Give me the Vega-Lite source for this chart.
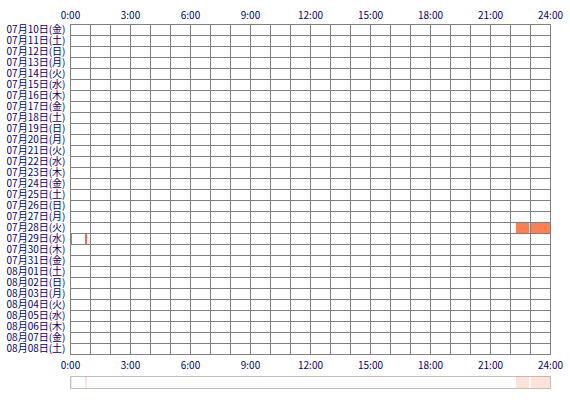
{
  "$schema": "https://vega.github.io/schema/vega-lite/v6.json",
  "padding": {"left": 5, "top": 9, "right": 5, "bottom": 5},
  "background": "white",
  "datasets": {
    "bars": [
      {"date": "07月28日(火)", "start": 22.3, "end": 22.95},
      {"date": "07月28日(火)", "start": 23.05, "end": 24.0},
      {"date": "07月29日(水)", "start": 0.05, "end": 0.1},
      {"date": "07月29日(水)", "start": 0.75, "end": 0.85}
    ]
  },
  "spacing": 22,
  "bounds": "flush",
  "vconcat": [
    {
      "width": 480,
      "height": 330,
      "data": {"name": "bars"},
      "view": {"stroke": "#808080", "strokeWidth": 1},
      "layer": [
        {
          "transform": [{"filter": "datum.date == '07月28日(火)'"}],
          "mark": {"type": "rect", "color": "#FF7F50"},
          "encoding": {
            "x": {
              "field": "start", "type": "quantitative",
              "scale": {"domain": [0, 24], "nice": false, "zero": false},
              "axis": {
                "orient": "top", "title": null, "values": [0,1,2,3,4,5,6,7,8,9,10,11,12,13,14,15,16,17,18,19,20,21,22,23,24],
                "labelExpr": "datum.value % 3 == 0 ? datum.value + ':00' : ''",
                "grid": true, "gridColor": "#808080", "gridOpacity": 1, "gridWidth": 1,
                "ticks": false, "domain": false, "labelPadding": 4, "labelFlush": false
              }
            },
            "x2": {"field": "end"},
            "y": {
              "field": "date", "type": "ordinal",
              "scale": {
                "domain": ["07月10日(金)","07月11日(土)","07月12日(日)","07月13日(月)","07月14日(火)","07月15日(水)","07月16日(木)","07月17日(金)","07月18日(土)","07月19日(日)","07月20日(月)","07月21日(火)","07月22日(水)","07月23日(木)","07月24日(金)","07月25日(土)","07月26日(日)","07月27日(月)","07月28日(火)","07月29日(水)","07月30日(木)","07月31日(金)","08月01日(土)","08月02日(日)","08月03日(月)","08月04日(火)","08月05日(水)","08月06日(木)","08月07日(金)","08月08日(土)"],
                "paddingInner": 0, "paddingOuter": 0
              },
              "axis": {
                "title": null, "grid": true, "tickBand": "extent", "gridColor": "#808080", "gridOpacity": 1, "gridWidth": 1,
                "ticks": false, "domain": false, "labelPadding": 5
              }
            }
          }
        },
        {
          "transform": [{"filter": "datum.date == '07月29日(水)'"}],
          "mark": {"type": "rect", "color": "#FF6347"},
          "encoding": {
            "x": {
              "field": "start", "type": "quantitative",
              "axis": {
                "orient": "bottom", "title": null, "values": [0,3,6,9,12,15,18,21,24],
                "labelExpr": "datum.value + ':00'",
                "grid": false, "ticks": false, "domain": false, "labelPadding": 6, "labelFlush": false
              }
            },
            "x2": {"field": "end"},
            "y": {"field": "date", "type": "ordinal"}
          }
        }
      ],
      "resolve": {"axis": {"x": "independent"}}
    },
    {
      "width": 480,
      "height": 12,
      "data": {"name": "bars"},
      "view": {"stroke": "#c0c0c0", "strokeWidth": 1},
      "mark": {"type": "rect", "color": "#FF7F50", "opacity": 0.22},
      "encoding": {
        "x": {"field": "start", "type": "quantitative", "scale": {"domain": [0, 24], "nice": false, "zero": false}, "axis": null},
        "x2": {"field": "end"}
      }
    }
  ],
  "config": {
    "axis": {
      "labelFont": "Noto Sans CJK JP",
      "labelFontSize": 10,
      "labelColor": "#000080"
    }
  }
}
